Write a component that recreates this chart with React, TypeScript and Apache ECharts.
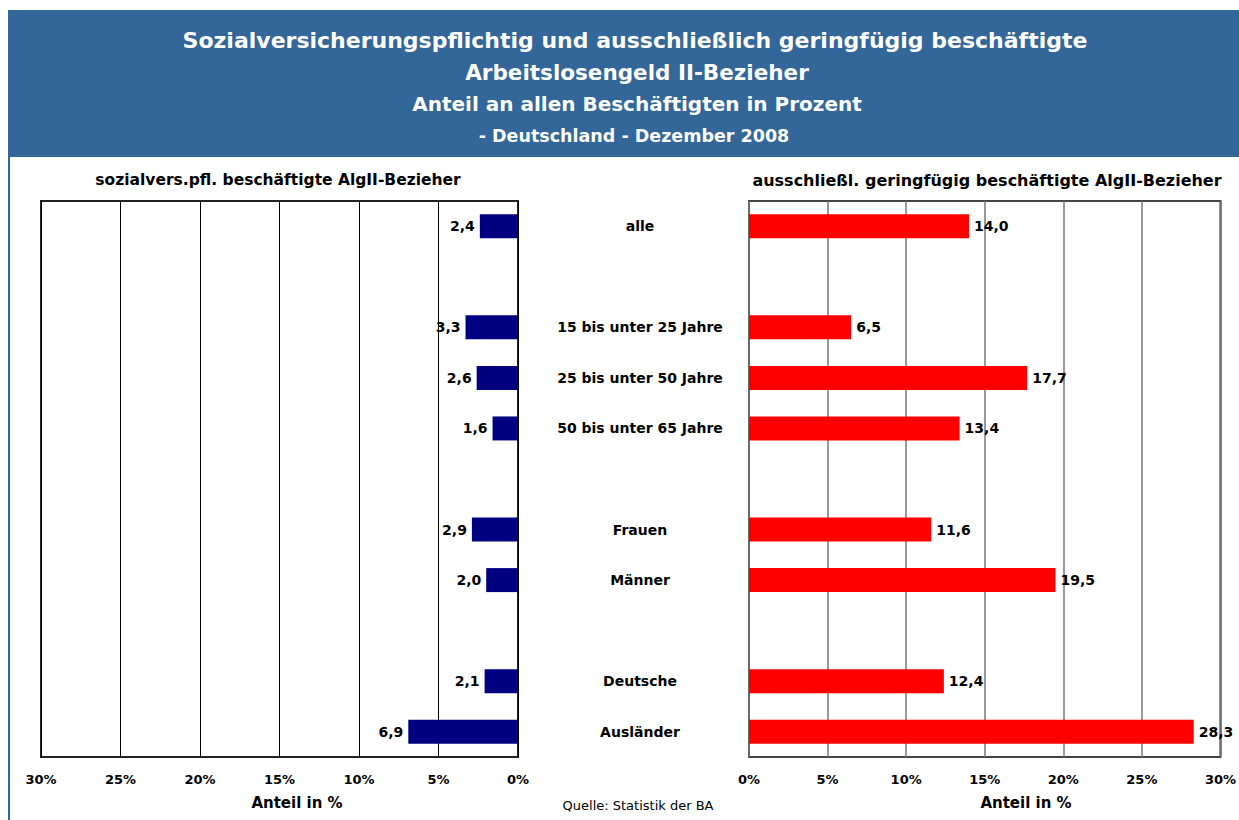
import React, { useEffect, useRef } from "react";
import * as echarts from "echarts";

const categories = [
  "alle",
  "",
  "15 bis unter 25 Jahre",
  "25 bis unter 50 Jahre",
  "50 bis unter 65 Jahre",
  " ",
  "Frauen",
  "Männer",
  "  ",
  "Deutsche",
  "Ausländer",
];
const sozialversValues: (number | null)[] = [2.4, null, 3.3, 2.6, 1.6, null, 2.9, 2.0, null, 2.1, 6.9];
const geringfuegigValues: (number | null)[] = [14.0, null, 6.5, 17.7, 13.4, null, 11.6, 19.5, null, 12.4, 28.3];
const titleLines = [
  "Sozialversicherungspflichtig und ausschließlich geringfügig beschäftigte",
  "Arbeitslosengeld II-Bezieher",
  "Anteil an allen Beschäftigten in Prozent",
  "- Deutschland - Dezember 2008",
];
const leftHeader = "sozialvers.pfl. beschäftigte AlgII-Bezieher";
const rightHeader = "ausschließl. geringfügig beschäftigte AlgII-Bezieher";
const axisName = "Anteil in %";
const source = "Quelle: Statistik der BA";

const FONT = "DejaVu Sans, Verdana, sans-serif";

export default function App() {
  const ref = useRef<HTMLDivElement>(null);
  useEffect(() => {
    if (!ref.current) return;
    const chart = echarts.init(ref.current, null, { renderer: "svg" });
    const fmt = (p: any) =>
      p.value == null ? "" : Number(p.value).toFixed(1).replace(".", ",");
    const lbl = {
      show: true,
      fontFamily: FONT,
      fontWeight: "bold" as const,
      fontSize: 14,
      color: "#000",
      formatter: fmt,
    };
    const axisLabelStyle = {
      fontFamily: FONT,
      fontWeight: "bold" as const,
      fontSize: 13,
      color: "#000",
      margin: 16,
      formatter: "{value}%",
    };
    const whiteTitle = (size: number) => ({ color: "#fff", fontFamily: FONT, fontWeight: "bold", fontSize: size });
    const blackBold = (size: number) => ({ color: "#000", fontFamily: FONT, fontWeight: "bold", fontSize: size });
    chart.setOption({
      animation: false,
      backgroundColor: "#fff",
      title: [
        { text: titleLines[0], left: 630, top: 24, textAlign: "center", textStyle: whiteTitle(22) },
        { text: titleLines[1], left: 632, top: 56, textAlign: "center", textStyle: whiteTitle(21.5) },
        { text: titleLines[2], left: 632, top: 89, textAlign: "center", textStyle: whiteTitle(20) },
        { text: titleLines[3], left: 629, top: 122, textAlign: "center", textStyle: whiteTitle(17.5) },
        { text: leftHeader, left: 273, top: 167, textAlign: "center", textStyle: blackBold(15.5) },
        { text: rightHeader, left: 982, top: 167, textAlign: "center", textStyle: blackBold(16) },
        { text: axisName, left: 292, top: 790, textAlign: "center", textStyle: blackBold(15) },
        { text: axisName, left: 1021, top: 790, textAlign: "center", textStyle: blackBold(15) },
        { text: source, left: 633, top: 794, textAlign: "center", textStyle: { color: "#000", fontFamily: FONT, fontWeight: "normal", fontSize: 13 } },
      ],
      graphic: [
        { type: "rect", z: -10, shape: { x: 8, y: 10, width: 1231, height: 147 }, style: { fill: "#336699" } },
        { type: "rect", z: -10, shape: { x: 8, y: 10, width: 2, height: 810 }, style: { fill: "#336699" } },
      ],
      grid: [
        { left: 41, top: 201, width: 477, height: 556, show: true, borderColor: "#222", borderWidth: 2, backgroundColor: "transparent" },
        { left: 749, top: 201, width: 477, height: 556, show: true, borderColor: "#444", borderWidth: 2, backgroundColor: "transparent" },
      ],
      xAxis: [
        {
          gridIndex: 0, type: "value", inverse: true, min: 0, max: 30, interval: 5,
          axisLine: { show: false }, axisTick: { show: false },
          splitLine: { show: true, lineStyle: { color: "#000", width: 1 } },
          axisLabel: axisLabelStyle,
        },
        {
          gridIndex: 1, type: "value", min: 0, max: 30, interval: 5,
          axisLine: { show: false }, axisTick: { show: false },
          splitLine: { show: true, lineStyle: { color: "#777", width: 1.5 } },
          axisLabel: axisLabelStyle,
        },
      ],
      yAxis: [
        {
          gridIndex: 0, type: "category", data: categories, inverse: true, position: "right",
          axisLine: { show: false }, axisTick: { show: false }, axisLabel: { show: false },
        },
        {
          gridIndex: 1, type: "category", data: categories, inverse: true, position: "left",
          axisLine: { show: false }, axisTick: { show: false },
          axisLabel: {
            show: true, margin: 109, align: "center",
            fontFamily: FONT, fontWeight: "bold", fontSize: 14, color: "#000",
          },
        },
      ],
      series: [
        {
          type: "bar", xAxisIndex: 0, yAxisIndex: 0, data: sozialversValues,
          barWidth: 24, itemStyle: { color: "#000080" },
          label: { ...lbl, position: "left", distance: 5 },
        },
        {
          type: "bar", xAxisIndex: 1, yAxisIndex: 1, data: geringfuegigValues,
          barWidth: 24, itemStyle: { color: "#FF0000" },
          label: { ...lbl, position: "right", distance: 5 },
        },
      ],
    });
    return () => chart.dispose();
  }, []);
  return (
    <div
      ref={ref}
      style={{ position: "fixed", left: 0, top: 0, width: 1239, height: 820 }}
    />
  );
}
